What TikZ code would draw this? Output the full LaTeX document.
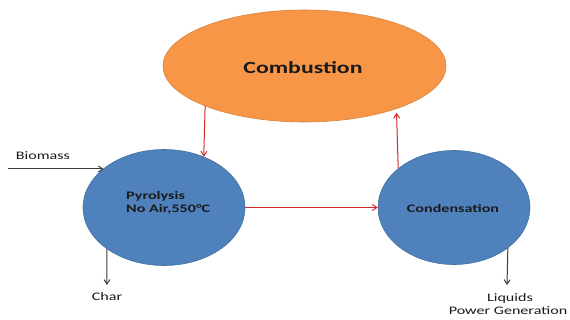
\documentclass[tikz,border=0pt]{standalone}
\usepackage{fontspec}
\setmainfont{Carlito}
\newfontfamily\widefont[FakeStretch=1.4]{Carlito}
\usetikzlibrary{shapes.geometric,arrows.meta}
\definecolor{orng}{HTML}{F79646}
\definecolor{orngedge}{HTML}{D9833E}
\definecolor{blu}{HTML}{4F81BD}
\definecolor{bluedge}{HTML}{41719C}
\definecolor{redln}{HTML}{D42A2A}
\definecolor{txt}{HTML}{1A1A1A}
\tikzset{
  oval/.style={ellipse, inner sep=0pt, line width=0.6pt},
  redarrow/.style={draw=redln, line width=1pt, -{Straight Barb[length=4.5pt,width=6pt]}},
  blkarrow/.style={draw=txt!85, line width=1pt, -{Straight Barb[length=4.5pt,width=6pt]}},
  lbl/.style={inner sep=0pt, text=txt, font=\widefont\fontsize{11.5}{13}\selectfont},
}
\begin{document}
\begin{tikzpicture}[x=1pt,y=-1pt]
\useasboundingbox (0,0) rectangle (570,320);
\node[oval, fill=orng, draw=orngedge, minimum width=283pt, minimum height=112pt] (comb) at (304.5,66) {};
\node[inner sep=0pt, font=\widefont\bfseries\fontsize{17}{20}\selectfont, text=txt] (combt) at (303,68) {Combustion};
\node[oval, fill=blu, draw=bluedge, minimum width=162pt, minimum height=116pt] (pyro) at (164,207.5) {};
\node[inner sep=0pt, align=left, anchor=west, font=\widefont\bfseries\fontsize{11.5}{13}\selectfont, text=txt] (pyrot) at (126,203) {Pyrolysis\\No Air,550°C};
\node[oval, fill=blu, draw=bluedge, minimum width=152pt, minimum height=114pt] (cond) at (454,207.5) {};
\node[inner sep=0pt, font=\widefont\bfseries\fontsize{11.5}{13}\selectfont, text=txt] (condt) at (453,208) {Condensation};
\node[lbl] (bio) at (43,156) {Biomass};
\node[lbl] (char) at (107,297) {Char};
\node[lbl] (liq) at (510,298) {Liquids};
\node[lbl] (pow) at (508,311) {Power Generation};
\coordinate (bin) at (8,169);
\coordinate (charend) at (107,285);
\coordinate (liqend) at (507,285);
\draw[redarrow] (comb.202.5) -- (pyro.52.6);
\draw[redarrow, shorten >=4pt] (cond.145) -- (comb.-25);
\draw[redarrow] (pyro.east) -- (cond.west);
\draw[blkarrow] (bin) -- (bin -| pyro.147);
\draw[blkarrow] (pyro.216) -- (charend);
\draw[blkarrow] (cond.-37) -- (liqend);
\end{tikzpicture}
\end{document}
